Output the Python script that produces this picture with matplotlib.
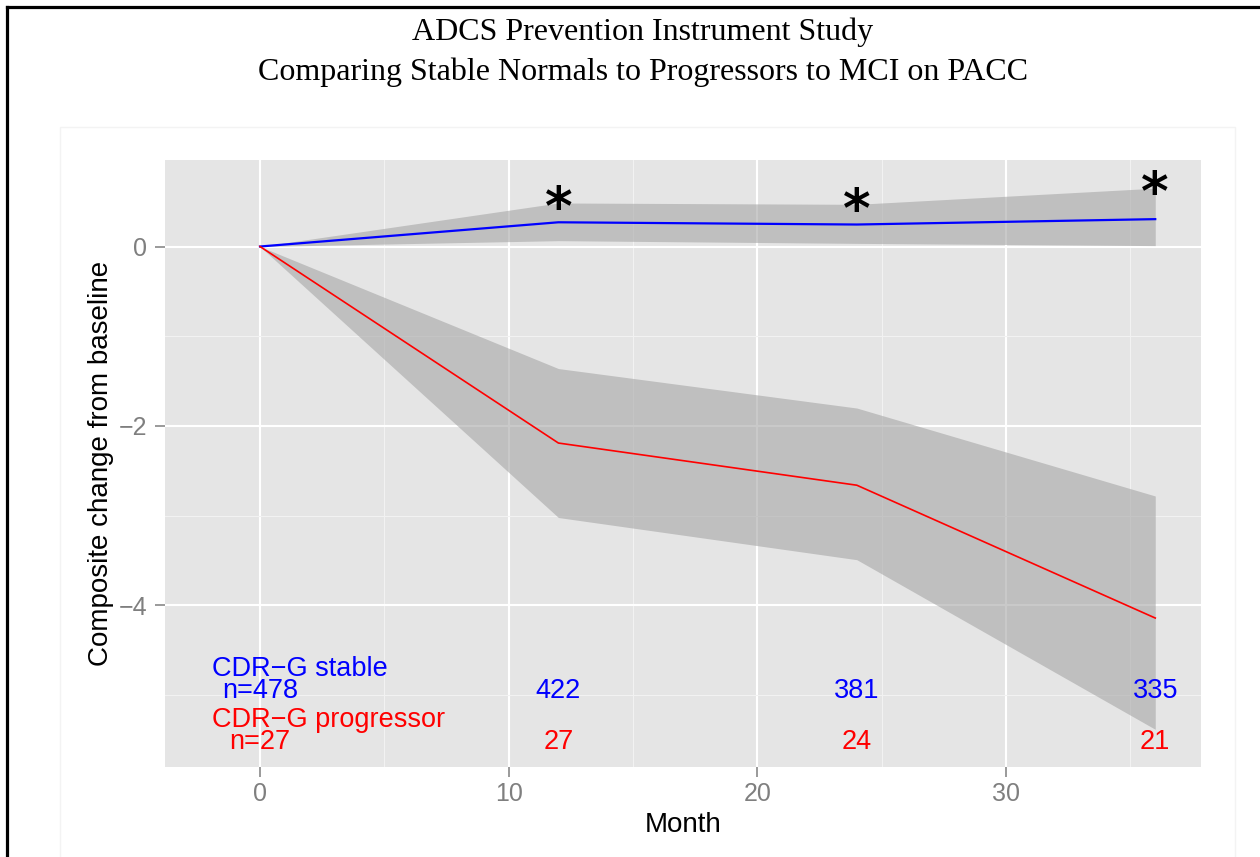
import numpy as np
import matplotlib.pyplot as plt
from matplotlib.lines import Line2D
from matplotlib.patches import Rectangle

# данные
months = [0, 12, 24, 36]
stable_mean = [0.0, 0.27, 0.245, 0.305]
stable_lo = [0.0, 0.065, 0.035, 0.01]
stable_hi = [0.0, 0.485, 0.47, 0.65]
prog_mean = [0.0, -2.19, -2.66, -4.14]
prog_lo = [0.0, -3.02, -3.49, -5.38]
prog_hi = [0.0, -1.36, -1.80, -2.78]
stable_n = [478, 422, 381, 335]
prog_n = [27, 27, 24, 21]
group_names = ['CDR\u2212G stable', 'CDR\u2212G progressor']
signif_months = [12, 24, 36]

W, H = 1260, 857
fig = plt.figure(figsize=(W / 100, H / 100), dpi=100)
fig.patch.set_facecolor('white')

# рамка (только верх и левый край видны)
fig.add_artist(Line2D([7 / W, 1.0], [1 - 7 / H, 1 - 7 / H], color='black', lw=2.3))
fig.add_artist(Line2D([7 / W, 7 / W], [0.0, 1 - 7 / H], color='black', lw=2.3))
# бледный фон вставленного графика ggplot
fig.add_artist(Rectangle((60 / W, -0.01), (1235 - 60) / W, (H - 127) / H + 0.01,
                         facecolor='white', edgecolor='#F3F3F3', lw=1, zorder=-5))

# заголовок
fig.text(643 / W, 1 - 40 / H, 'ADCS Prevention Instrument Study', ha='center', va='baseline',
         family='Liberation Serif', fontsize=23)
fig.text(643 / W, 1 - 80 / H, 'Comparing Stable Normals to Progressors to MCI on PACC',
         ha='center', va='baseline', family='Liberation Serif', fontsize=23)

ax = fig.add_axes([165 / W, (H - 767) / H, (1201 - 165) / W, (767 - 160) / H])
ax.set_facecolor('#E5E5E5')
for s in ax.spines.values():
    s.set_visible(False)
ax.set_xlim(-3.82, 37.84)
ax.set_ylim(-5.80, 0.964)

# сетка
ax.set_xticks([0, 10, 20, 30])
ax.set_yticks([-4, -2, 0])
ax.set_xticks([5, 15, 25, 35], minor=True)
ax.set_yticks([-5, -3, -1], minor=True)
ax.grid(True, which='major', color='white', lw=1.5)
ax.grid(True, which='minor', color='#F2F2F2', lw=0.8)
ax.set_axisbelow(True)
ax.tick_params(which='major', colors='#7F7F7F', length=7, width=1.1, labelsize=18, pad=4)
ax.tick_params(axis='y', which='major', pad=6)
ax.tick_params(which='minor', length=0)
for lab in ax.get_xticklabels() + ax.get_yticklabels():
    lab.set_family('Liberation Sans')

# доверительные интервалы и средние
ax.fill_between(months, stable_lo, stable_hi, color='#A6A6A6', alpha=0.6, lw=0)
ax.fill_between(months, prog_lo, prog_hi, color='#A6A6A6', alpha=0.6, lw=0)
ax.plot(months, stable_mean, color='#0000FF', lw=1.6)
ax.plot(months, prog_mean, color='#FF0000', lw=1.2)

# звёздочки значимости
for m in signif_months:
    ax.annotate('*', (m, stable_hi[months.index(m)]), xytext=(0, -16), textcoords='offset points',
                ha='center', va='baseline', fontsize=38, fontweight='bold', color='black',
                family='DejaVu Sans')

# подписи с численностью групп
txt = dict(family='Liberation Sans', fontsize=19.5, va='baseline')
ax.text(-1.93, -4.79, group_names[0], color='#0000FF', ha='left', **txt)
ax.text(-1.93, -5.35, group_names[1], color='#FF0000', ha='left', **txt)
for i, m in enumerate(months):
    s = 'n=%d' % stable_n[i] if i == 0 else str(stable_n[i])
    p = 'n=%d' % prog_n[i] if i == 0 else str(prog_n[i])
    ax.text(m, -5.03, s, color='#0000FF', ha='center', **txt)
    ax.text(m, -5.60, p, color='#FF0000', ha='center', **txt)

ax.set_xlabel('Month', family='Liberation Sans', fontsize=20, labelpad=4)
ax.set_ylabel('Composite change from baseline', family='Liberation Sans', fontsize=20, labelpad=3)

fig.savefig('out.png', dpi=100)
